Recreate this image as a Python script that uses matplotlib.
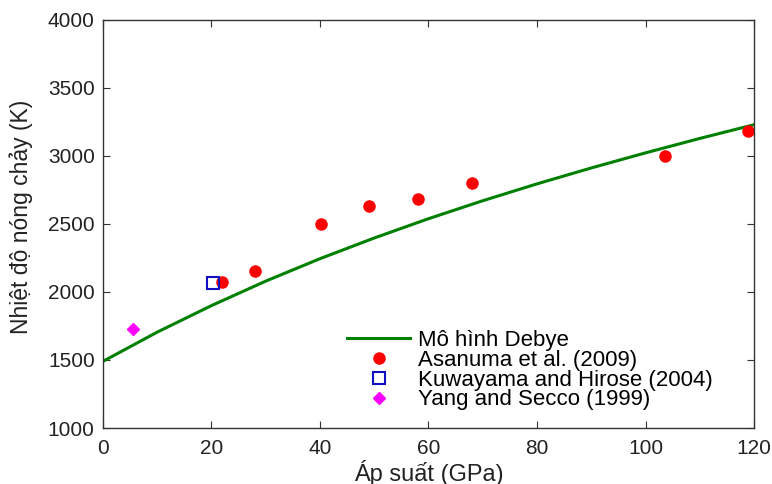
import numpy as np
import matplotlib.pyplot as plt

plt.rcParams['font.family'] = ['Liberation Sans', 'DejaVu Sans']

# Debye model curve
p_model = [0, 10, 20, 30, 40, 50, 60, 70, 80, 90, 100, 110, 120]
t_model = [1490, 1705, 1900, 2080, 2245, 2397, 2539, 2671, 2795, 2912, 3023, 3129, 3230]

# Asanuma et al. (2009)
p_asa = [21.9, 28.0, 40.2, 49.0, 58.1, 68.0, 103.6, 118.9]
t_asa = [2074, 2154, 2500, 2632, 2684, 2801, 3000, 3184]

# Kuwayama and Hirose (2004)
p_kuw = [20.3]
t_kuw = [2066]

# Yang and Secco (1999)
p_yang = [5.5]
t_yang = [1728]

fig = plt.figure(figsize=(7.72, 4.84), dpi=100)
ax = fig.add_axes([0.1334, 0.1157, 0.8433, 0.843])

ax.plot(p_model, t_model, '-', color=(0, 0.5, 0), lw=2.2, label='Mô hình Debye')
ax.plot(p_asa, t_asa, 'o', color='red', ms=8, ls='none', label='Asanuma et al. (2009)')
ax.plot(p_kuw, t_kuw, 's', mec='#1010c0', mfc='none', mew=1.5, ms=8, ls='none',
        label='Kuwayama and Hirose (2004)')
ax.plot(p_yang, t_yang, 'D', color='magenta', ms=6.5, ls='none', label='Yang and Secco (1999)')

ax.set_xlim(0, 120)
ax.set_ylim(1000, 4000)
ax.set_xticks(range(0, 121, 20))
ax.set_yticks(range(1000, 4001, 500))
ax.tick_params(direction='in', top=True, right=True, labelsize=15, length=5,
               color='#333333', labelcolor='#222222')
ax.tick_params(axis='x', pad=8)
ax.tick_params(axis='y', pad=6)
for s in ax.spines.values():
    s.set_color('#333333')
    s.set_linewidth(1.0)

ax.set_xlabel('Áp suất (GPa)', fontsize=17, color='#222222', labelpad=1)
ax.set_ylabel('Nhiệt độ nóng chảy (K)', fontsize=16.5, color='#222222')
ax.yaxis.set_label_coords(-0.1075, 0.517)

ax.legend(loc='center left', bbox_to_anchor=(0.375, 0.142), frameon=False, fontsize=16,
          handlelength=2.85, handletextpad=0.36, labelspacing=-0.05, borderpad=0,
          borderaxespad=0)

fig.savefig('out.png', dpi=100)
